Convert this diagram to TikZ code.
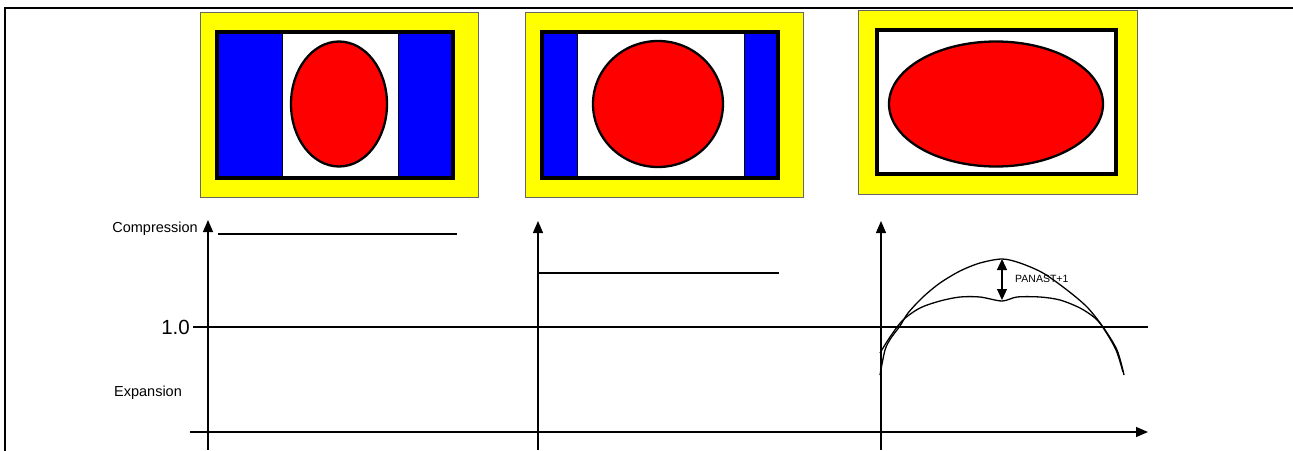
\documentclass[tikz,border=0pt]{standalone}
\usepackage{fontspec}
\setmainfont{Liberation Sans}
\usetikzlibrary{arrows.meta}
\definecolor{pyellow}{RGB}{255,255,0}
\definecolor{pblue}{RGB}{0,0,255}
\definecolor{pred}{RGB}{255,0,0}
\tikzset{
  frameline/.style={line width=2.8pt, line cap=rect},
  yellowbox/.style={fill=pyellow, draw=black!60, line width=0.9pt},
  whitearea/.style={fill=white, draw=black, line width=0.9pt},
  innerframe/.style={draw=black, line width=3.2pt},
  redshape/.style={fill=pred, draw=black, line width=2.3pt},
  tip/.style={Triangle[length=12pt,width=10pt]},
  axisline/.style={line width=1.3pt, -{Triangle[length=12pt,width=10pt]}},
  plainline/.style={line width=1.3pt},
  curve/.style={line width=1.3pt},
  lbl/.style={font=\fontsize{14.5}{16}\selectfont, inner sep=0pt},
}
\begin{document}
\begin{tikzpicture}[x=1pt,y=-1pt]
\useasboundingbox (0,0) rectangle (1293,450);
% frame
\coordinate (fTL) at (5,8);
\coordinate (fTR) at (1293,8);
\coordinate (fBL) at (5,450);
% panel 1
\draw[yellowbox] (200,12) rectangle (478,197);
\fill[pblue] (217,32) rectangle (453,178);
\draw[whitearea] (282,32) rectangle (398,178);
\draw[redshape] (339,104) ellipse [x radius=48pt, y radius=62.5pt];
\draw[innerframe] (217,32) rectangle (453,178);
% panel 2
\draw[yellowbox] (525,12) rectangle (803,197);
\fill[pblue] (542,32) rectangle (778,178);
\draw[whitearea] (577,32) rectangle (744,178);
\draw[redshape] (658,104) ellipse [x radius=65pt, y radius=63pt];
\draw[innerframe] (542,32) rectangle (778,178);
% panel 3
\draw[yellowbox] (858,10) rectangle (1137,194);
\fill[white] (877,30) rectangle (1116,174);
\draw[redshape] (996,104) ellipse [x radius=107pt, y radius=62.5pt];
\draw[innerframe] (877,30) rectangle (1116,174);
% frame lines
\draw[frameline] (fBL) -- (fTL) -- (fTR);
% axes
\coordinate (a1b) at (208,450); \coordinate (a1t) at (208,220);
\coordinate (a2b) at (538,450); \coordinate (a2t) at (538,221);
\coordinate (a3b) at (881,450); \coordinate (a3t) at (881,221);
\coordinate (hxl) at (190,432); \coordinate (hxr) at (1148,432);
\draw[axisline] (a1b) -- (a1t);
\draw[axisline] (a2b) -- (a2t);
\draw[axisline] (a3b) -- (a3t);
\draw[axisline] (hxl) -- (hxr);
% reference line 1.0
\coordinate (oneL) at (193,327); \coordinate (oneR) at (1148,327);
\draw[plainline] (oneL) -- (oneR);
% compression levels
\coordinate (c1l) at (218,234); \coordinate (c1r) at (457,234);
\draw[plainline] (c1l) -- (c1r);
\coordinate (c2l) at (538,273); \coordinate (c2r) at (779,273);
\draw[plainline] (c2l) -- (c2r);
% labels
\node[lbl, anchor=east] (comp) at (198,229) {Compression};
\node[lbl, anchor=east, font=\fontsize{20.5}{22}\selectfont] (one) at (190,327) {1.0};
\node[lbl] (exp) at (148,393) {Expansion};
% curves panel 3
\draw[curve] plot[smooth, tension=0.5] coordinates {(880,375) (885,350) (891,338) (900,326) (908,313) (923,297) (940,283) (960,271) (980,263) (1002,259) (1020,263) (1043,273) (1067,290) (1087,307) (1103,327) (1117,350) (1124,375)};
\draw[curve] plot[smooth, tension=0.5] coordinates {(880,353) (890,337) (903,320) (920,308) (940,301) (960,297) (980,297) (1002,301) (1017,297) (1040,297) (1060,300) (1080,308) (1095,318) (1104,329) (1116,350) (1123,372)};
\coordinate (pTop) at (1002,259); \coordinate (pBot) at (1002,300);
\draw[line width=1.3pt, {Triangle[length=11pt,width=10pt]}-{Triangle[length=11pt,width=10pt]}] (pTop) -- (pBot);
\node[anchor=west, inner sep=0pt, font=\fontsize{10.5}{12}\selectfont] (pan) at (1015,279) {PANAST+1};
\end{tikzpicture}
\end{document}
